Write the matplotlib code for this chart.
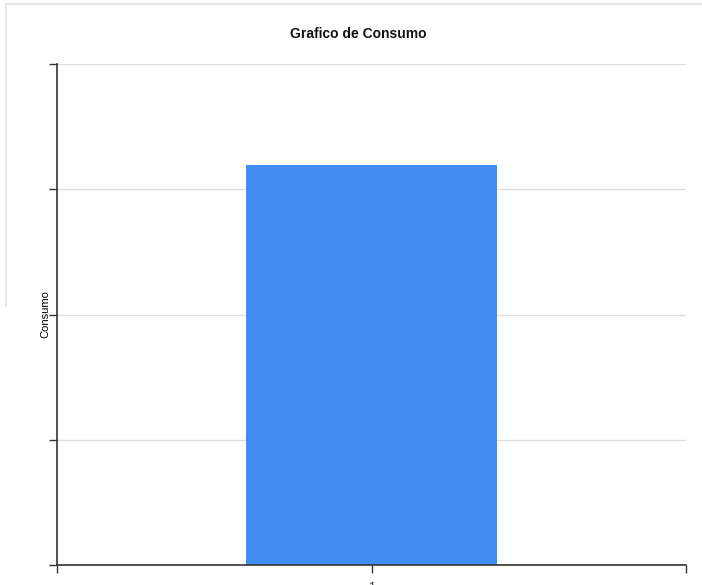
import matplotlib
matplotlib.use("Agg")
from matplotlib import pyplot as plt
from matplotlib.lines import Line2D

categories = ["1"]
consumo = [3.19]
y_ticks = [0, 1, 2, 3, 4]

plt.rcParams['font.family'] = ['Liberation Sans', 'DejaVu Sans']

fig = plt.figure(figsize=(7.02, 5.85), dpi=100)

# light frame left over from the page behind the chart
fig.add_artist(Line2D([6 / 702, 1.0], [1 - 4 / 585, 1 - 4 / 585],
                      color='#e6e6e6', lw=1.6, transform=fig.transFigure))
fig.add_artist(Line2D([6 / 702, 6 / 702], [1 - 4 / 585, 1 - 305 / 585],
                      color='#e6e6e6', lw=1.6, transform=fig.transFigure))

ax = fig.add_axes([57 / 702, 1 - 565 / 585, 629 / 702, 501 / 585])

ax.bar([0], consumo, width=0.4, color='#418cf0', zorder=2)

ax.set_xlim(-0.5, 0.5)
ax.set_ylim(y_ticks[0], y_ticks[-1])
ax.set_yticks(y_ticks)
ax.set_yticklabels([])
ax.set_xticks([-0.5, 0, 0.5])
ax.set_xticklabels(["", categories[0], ""], fontsize=9, color='#333333')
ax.tick_params(axis='x', length=6, width=1, color='#333333', pad=6)
ax.tick_params(axis='y', length=6, width=1, color='#333333')

ax.grid(axis='y', color='#dddddd', lw=1, zorder=0)
for s in ['top', 'right']:
    ax.spines[s].set_visible(False)
for s in ['left', 'bottom']:
    ax.spines[s].set_color('#333333')
    ax.spines[s].set_linewidth(1.2)

fig.text(358 / 702, 1 - 34 / 585, "Grafico de Consumo", fontsize=10,
         fontweight='bold', ha='center', va='center', color='#111111')
ax.set_ylabel("Consumo", fontsize=8)
ax.yaxis.set_label_coords(-0.011, 0.5)

fig.savefig("out.png", dpi=100)
